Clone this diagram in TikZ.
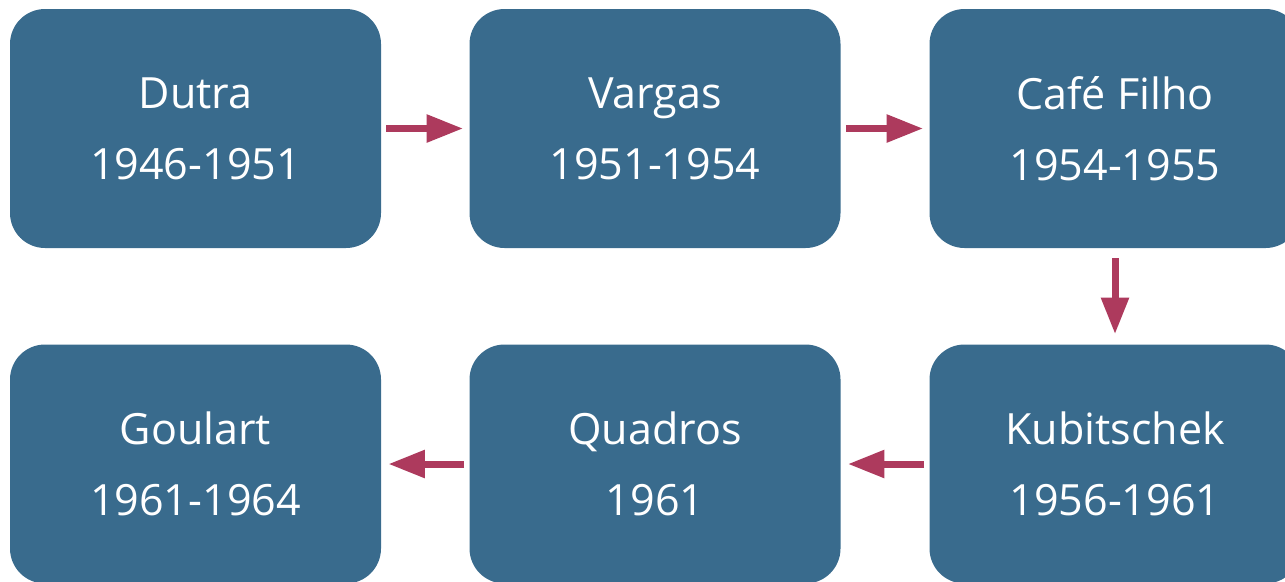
\documentclass[tikz,border=0pt]{standalone}
\usepackage{fontspec}
\setmainfont{Open Sans}
\usepackage{tikz}
\usepackage{xcolor}
\usetikzlibrary{arrows.meta}
\definecolor{boxblue}{HTML}{396B8D}
\definecolor{arrowred}{HTML}{AD3A5D}

\tikzset{
    presbox/.style={fill=boxblue, text=white, rounded corners=0.7cm,
        minimum width=7.42cm, minimum height=4.78cm, inner sep=0pt,
        align=center, font=\fontsize{24.5}{40.3}\selectfont},
    flowarrow/.style={draw=arrowred, line width=0.14cm,
        -{Triangle[length=0.73cm, width=0.53cm]}, arrowred}
}

\begin{document}
\begin{tikzpicture}
    \clip (0, 0) rectangle (25.7, -11.62);
    \node[presbox] (dutra) at (3.91, -2.57) {Dutra\\1946-1951};
    \node[presbox] (vargas) at (13.1, -2.57) {Vargas\\1951-1954};
    \node[presbox] (cafe) at (22.3, -2.57) {Café Filho\\1954-1955};
    \node[presbox] (kubitschek) at (22.3, -9.28) {Kubitschek\\1956-1961};
    \node[presbox] (quadros) at (13.1, -9.28) {Quadros\\1961};
    \node[presbox] (goulart) at (3.91, -9.28) {Goulart\\1961-1964};
    \draw[flowarrow, shorten <=0.1cm, shorten >=0.12cm] (dutra) to (vargas);
    \draw[flowarrow, shorten <=0.1cm, shorten >=0.12cm] (vargas) to (cafe);
    \draw[flowarrow, shorten <=0.2cm, shorten >=0.2cm] (cafe) to (kubitschek);
    \draw[flowarrow, shorten <=0.1cm, shorten >=0.14cm] (kubitschek) to (quadros);
    \draw[flowarrow, shorten <=0.1cm, shorten >=0.14cm] (quadros) to (goulart);
\end{tikzpicture}
\end{document}
